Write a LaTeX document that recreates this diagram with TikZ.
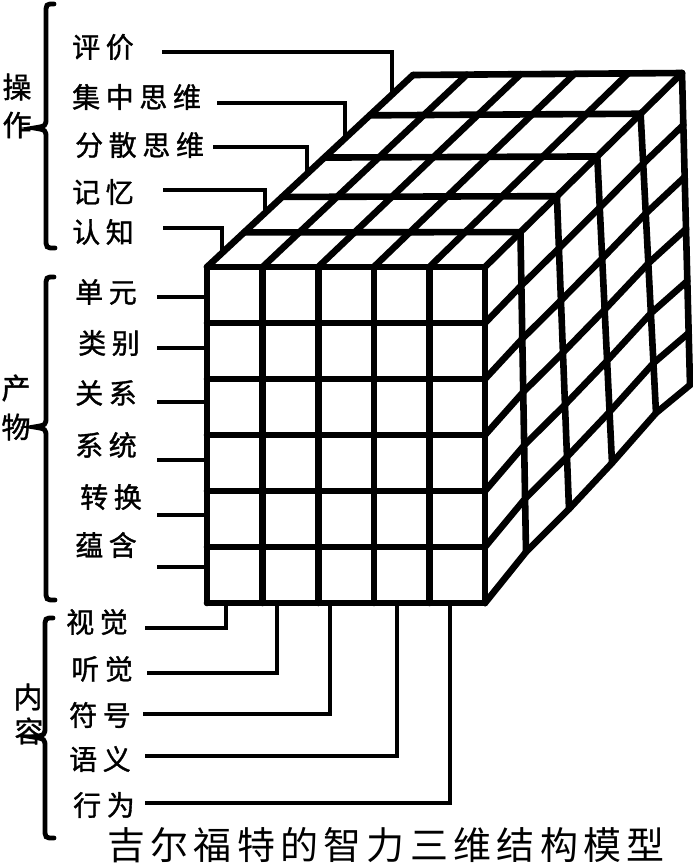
\documentclass[tikz,border=0pt]{standalone}
\usepackage{fontspec}
\newfontfamily\cjk[LetterSpace=20,FakeBold=1.2]{Noto Sans CJK SC}
\newfontfamily\cjktitle[LetterSpace=14]{Noto Sans CJK SC}
\newfontfamily\cjkside[FakeBold=1.2]{Noto Sans CJK SC}
\usetikzlibrary{calc}
\newcommand\mybrace[4]{% body x, top y, tip y, bottom y
  \draw[bracel] ({#1+8},#2) .. controls (#1,#2) .. (#1,{#2+10}) -- (#1,{#3-10})
    .. controls (#1,{#3-2}) .. ({#1-12},#3) .. controls (#1,{#3+2}) .. (#1,{#3+10})
    -- (#1,{#4-10}) .. controls (#1,#4) .. ({#1+9},#4);}
\begin{document}
\begin{tikzpicture}[x=1pt,y=-1pt,
  cubeline/.style={line width=6.6pt,line cap=round,line join=round},
  conn/.style={line width=4.8pt,line join=miter},
  lab/.style={font=\cjk\fontsize{28}{30}\selectfont,inner sep=0pt,anchor=west},
  side/.style={font=\cjkside\fontsize{29}{30}\selectfont,inner sep=0pt},
  bracel/.style={line width=4.8pt,line cap=round}]
\fill[white] (0,0) rectangle (693,863);
\useasboundingbox (0,0) rectangle (693,863);

% front face
\foreach \j in {0,...,5} \draw[cubeline] ({207+55.6*\j},267) -- ({207+55.6*\j},603);
\foreach \i in {0,...,6} \draw[cubeline] (207,{267+56*\i}) -- (485,{267+56*\i});

% top face
\foreach \j in {0,...,5} \draw[cubeline] ({207+55.6*\j},267) -- ({413+53.8*\j},{75-0.4*\j});
\foreach \t in {0.18,0.365,0.57,0.79,1} \draw[cubeline] ({207+206*\t},{267-192*\t}) -- ({485+197*\t},{267-194*\t});

% right face
\foreach \t/\bx/\by [count=\k from 0] in {0/485/603,0.18/526/552,0.365/569/509,0.57/612/463,0.79/656/413,1/690/385}{
  \coordinate (T\k) at ({485+197*\t},{267-194*\t});
  \coordinate (B\k) at (\bx,\by);
  \draw[cubeline] (T\k) -- (B\k);
}
\foreach \i in {1,...,6} \draw[cubeline] ($(T0)!\i/6!(B0)$) -- ($(T1)!\i/6!(B1)$) -- ($(T2)!\i/6!(B2)$) -- ($(T3)!\i/6!(B3)$) -- ($(T4)!\i/6!(B4)$) -- ($(T5)!\i/6!(B5)$);

% operation labels
\node[lab] (op1) at (72,47) {评价};
\node[lab] (op2) at (72,97) {集中思维};
\node[lab] (op3) at (75,145) {分散思维};
\node[lab] (op4) at (72,192) {记忆};
\node[lab] (op5) at (72,232) {认知};
\foreach \n/\ax/\ay/\bx/\by in {1/162/52/392/95, 2/217/103/345/138, 3/213/147/307/174, 4/163/190/265/213, 5/163/228/222/253}{
  \coordinate (op\n a) at (\ax,\ay);
  \coordinate (op\n b) at (\bx,\by);
  \draw[conn] (op\n a) -| (op\n b);
}

% product labels
\node[lab] (pr1) at (75,292) {单元};
\node[lab] (pr2) at (78,343) {类别};
\node[lab] (pr3) at (75,393) {关系};
\node[lab] (pr4) at (75,445) {系统};
\node[lab] (pr5) at (80,497) {转换};
\node[lab] (pr6) at (75,545) {蕴含};
\foreach \n/\yy in {1/297,2/348,3/402,4/460,5/515,6/567}{
  \coordinate (pr\n a) at (157,\yy);
  \coordinate (pr\n b) at (207,\yy);
  \draw[conn] (pr\n a) -- (pr\n b);
}

% content labels
\node[lab] (ct1) at (66,622) {视觉};
\node[lab] (ct2) at (71,669) {听觉};
\node[lab] (ct3) at (69,715) {符号};
\node[lab] (ct4) at (69,759) {语义};
\node[lab] (ct5) at (73,805) {行为};
\foreach \n/\ax/\ay/\bx in {1/145/628/226, 2/147/673/277, 3/143/714/330, 4/145/756/397, 5/145/803/450}{
  \coordinate (ct\n a) at (\ax,\ay);
  \coordinate (ct\n b) at (\bx,603);
  \draw[conn] (ct\n a) -| (ct\n b);
}

% side labels and braces
\node[side] (s1) at (17,87) {操};
\node[side] (s2) at (17,125) {作};
\node[side] (s3) at (16,388) {产};
\node[side] (s4) at (16,427) {物};
\node[side] (s5) at (28,697) {内};
\node[side] (s6) at (29,731) {容};
\mybrace{46}{4}{128}{248}
\mybrace{46}{277}{427}{600}
\mybrace{45}{618}{737}{838}

% title
\node[font=\cjktitle\fontsize{38}{40}\selectfont,inner sep=0pt] (title) at (386,845) {吉尔福特的智力三维结构模型};
\end{tikzpicture}
\end{document}
